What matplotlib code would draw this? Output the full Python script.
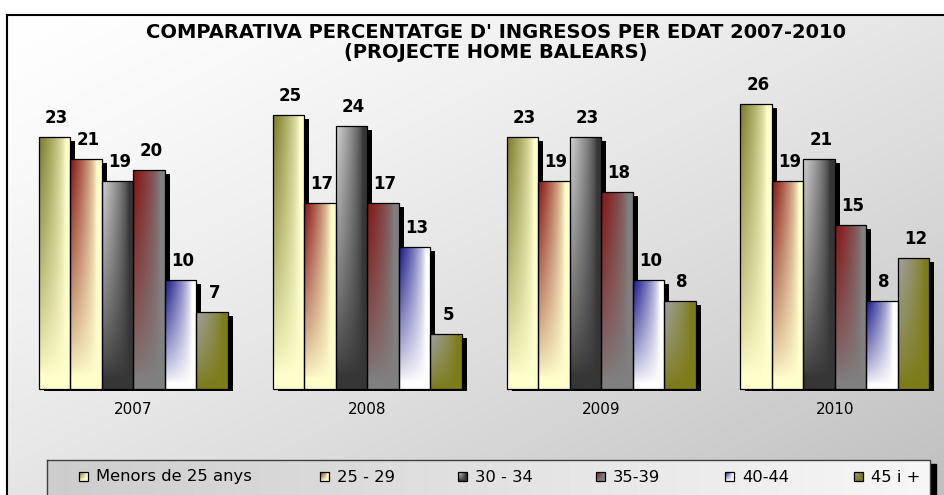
import numpy as np
import matplotlib.pyplot as plt
from matplotlib.patches import Rectangle
from matplotlib.colors import to_rgb

years = ['2007', '2008', '2009', '2010']
age_groups = ['Menors de 25 anys', '25 - 29', '30 - 34', '35-39', '40-44', '45 i +']
menors_25 = [23, 25, 23, 26]
edat_25_29 = [21, 17, 19, 19]
edat_30_34 = [19, 24, 23, 21]
edat_35_39 = [20, 17, 18, 15]
edat_40_44 = [10, 13, 10, 8]
edat_45_mes = [7, 5, 8, 12]
series = [menors_25, edat_25_29, edat_30_34, edat_35_39, edat_40_44, edat_45_mes]

# corner colour / body colour of each series fill
fills = [('#7c7c2c', '#ffffcc'), ('#861414', '#ffffcc'), ('#d0d0d0', '#363636'),
         ('#861414', '#808080'), ('#18188a', '#ffffff'), ('#a0a0a0', '#7c7c18')]

W, H = 945, 495


def corner_fill(c1, c2, rows=100, cols=30):
    # colour c1 spreads from the top-left corner and fades into c2
    u = np.linspace(0, 1, cols)[None, :]
    v = np.linspace(0, 1, rows)[:, None]
    s = np.clip(1 - u / 0.85, 0, 1) ** 0.7 * np.clip(1 - v / 0.95, 0, 1) ** 0.75
    a, b = np.array(to_rgb(c1)), np.array(to_rgb(c2))
    return b + s[..., None] * (a - b)


fig = plt.figure(figsize=(W / 100, H / 100), dpi=100)
fig.patch.set_facecolor('white')

# background panel in pixel coordinates
bg = fig.add_axes([0, 0, 1, 1])
bg.axis('off')
gx = np.linspace(0, 1, 200)[None, :]
gy = np.linspace(0, 1, 120)[:, None]
shade = (255 - 64 * (0.5 * gx + 0.5 * gy) ** 1.3) / 255
bg.imshow(np.dstack([shade] * 3), extent=(7, W, H, 15), aspect='auto',
          interpolation='bilinear', zorder=0)
bg.plot([7, W], [15, 15], color='black', lw=1.5, zorder=1)
bg.plot([7, 7], [15, H], color='black', lw=1.5, zorder=1)

# legend box with shadow
bg.add_patch(Rectangle((930, 464), 6, 40, color='black', zorder=2))
lg = np.linspace(205, 247, 200)[None, :] / 255 * np.ones((10, 1))
bg.imshow(np.dstack([lg] * 3), extent=(47, 930, H + 5, 460), aspect='auto',
          interpolation='bilinear', zorder=3)
bg.plot([47, 930, 930], [460, 460, H + 5], color='#404040', lw=1, zorder=4)
bg.plot([47, 47], [460, H + 5], color='#404040', lw=1, zorder=4)
leg_x = [79, 320, 458, 596, 725, 854]
for lx, name, (c1, c2) in zip(leg_x, age_groups, fills):
    bg.imshow(corner_fill(c1, c2, 20, 20), extent=(lx, lx + 9, 481, 472),
              aspect='auto', interpolation='bilinear', zorder=5)
    bg.add_patch(Rectangle((lx, 472), 9, 9, fill=False, edgecolor='black',
                           lw=0.9, zorder=6))
    bg.text(lx + 17, 477, name, fontsize=11.8, va='center', ha='left', zorder=6)
bg.set_xlim(0, W)
bg.set_ylim(H, 0)

# bar chart
ax = fig.add_axes([10 / W, (H - 389) / H, 930 / W, 299 / H])
ax.patch.set_alpha(0)
unit = 233.8
bw = 31.5 / unit
dx, dy = 5 / unit, 4 / 10.95
x = np.arange(len(years))

for i, (vals, (c1, c2)) in enumerate(zip(series, fills)):
    pos = x + (i - 2.5) * bw
    ax.bar(pos + dx, np.array(vals) - dy + 0.15, width=bw, bottom=-0.15,
           color='black', zorder=1, clip_on=False)
    bars = ax.bar(pos, vals, width=bw, facecolor='none', edgecolor='black',
                  linewidth=0.9, zorder=3, clip_on=False)
    img = corner_fill(c1, c2)
    for rect, v in zip(bars, vals):
        x0, w = rect.get_x(), rect.get_width()
        im = ax.imshow(img, extent=(x0, x0 + w, 0, v), origin='upper',
                       aspect='auto', interpolation='bilinear', zorder=2)
        im.set_clip_path(rect)
        ax.annotate(str(v), (x0 + w / 2, v), xytext=(2, 19),
                    textcoords='offset pixels', ha='center', va='center',
                    fontsize=12, fontweight='bold', zorder=4)

ax.set_xlim((10 - 133.5) / unit, (940 - 133.5) / unit)
ax.set_ylim(0, 299 / 10.95)
ax.set_xticks(x, years, fontsize=11)
ax.tick_params(axis='x', length=0, pad=9.5)
ax.set_yticks([])
for sp in ax.spines.values():
    sp.set_visible(False)

fig.text(496 / W, 1 - 42.5 / H,
         "COMPARATIVA PERCENTATGE D' INGRESOS PER EDAT 2007-2010\n(PROJECTE HOME BALEARS)",
         ha='center', va='center', fontsize=14, fontweight='bold', linespacing=1.1)

fig.savefig('out.png', dpi=100)
